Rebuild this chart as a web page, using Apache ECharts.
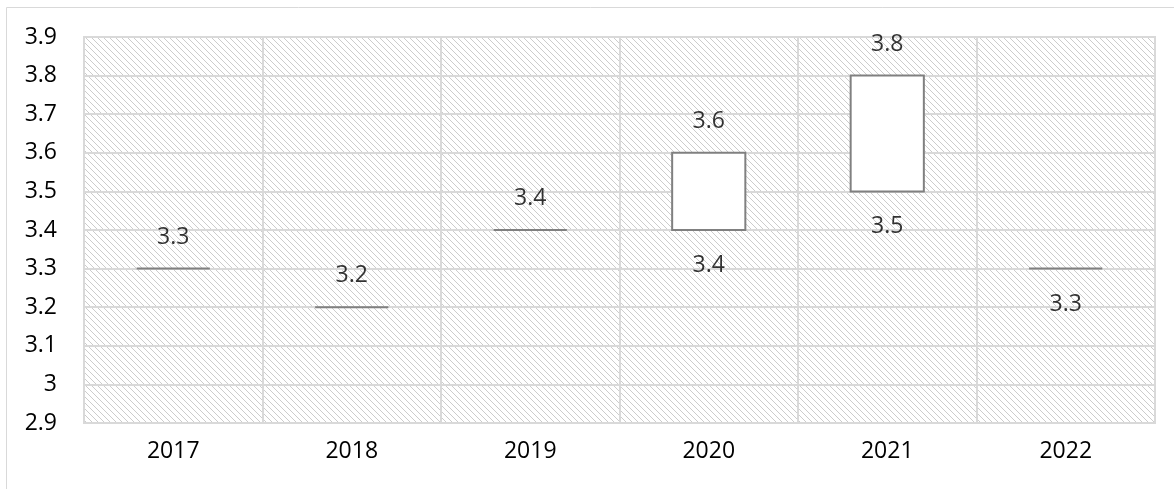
<!DOCTYPE html>
<html>
<head>
<meta charset="utf-8">
<script src="https://cdn.jsdelivr.net/npm/echarts@6/dist/echarts.min.js"></script>
<style>
    html, body { margin: 0; padding: 0; background: #fff; }
    #chart { width: 1174px; height: 489px; }
</style>
</head>
<body>
<div id="chart"></div>
<script>
const years = ['2017', '2018', '2019', '2020', '2021', '2022']
const lowValues = [3.3, 3.2, 3.4, 3.4, 3.5, 3.3]
const highValues = [3.3, 3.2, 3.4, 3.6, 3.8, 3.3]
// labels shown above / below the bars
const topLabels = [3.3, 3.2, 3.4, 3.6, 3.8, null]
const bottomLabels = [null, null, null, 3.4, 3.5, 3.3]

const fontFamily = '"Open Sans", "Liberation Sans", Arial, sans-serif'
const textColor = '#000000'

// diagonal hatch fill for plot area
function hatch() {
    const c = document.createElement('canvas')
    const s = 6
    c.width = s
    c.height = s
    const ctx = c.getContext('2d')
    ctx.fillStyle = '#ffffff'
    ctx.fillRect(0, 0, s, s)
    ctx.fillStyle = '#cccccc'
    for (let y = 0; y < s; y++) {
        for (let x = 0; x < s; x++) {
            if ((x - y + s) % s === 0) ctx.fillRect(x, y, 1, 1)
        }
    }
    return c
}

const myChart = echarts.init(document.getElementById('chart'))
const boxData = years.map((y, i) => [i, lowValues[i], highValues[i]])

myChart.setOption({
    animation: false,
    graphic: [{
        type: 'rect',
        shape: { x: 6.5, y: 7.5, width: 1200, height: 520 },
        style: { fill: 'none', stroke: '#d9d9d9', lineWidth: 1 },
        silent: true,
        z: -10
    }],
    grid: {
        left: 84,
        right: 19,
        top: 37,
        bottom: 66,
        show: true,
        backgroundColor: { image: hatch(), repeat: 'repeat' },
        borderColor: '#d9d9d9',
        borderWidth: 2
    },
    xAxis: {
        type: 'category',
        data: years,
        boundaryGap: true,
        axisLine: { show: false },
        axisTick: { show: false },
        axisLabel: { color: textColor, fontSize: 23, fontFamily: fontFamily, margin: 17 },
        splitLine: { show: true, lineStyle: { color: '#d9d9d9', width: 2 } }
    },
    yAxis: {
        type: 'value',
        min: 2.9,
        max: 3.9,
        interval: 0.1,
        axisLine: { show: false },
        axisTick: { show: false },
        axisLabel: {
            color: textColor,
            fontSize: 23,
            fontFamily: fontFamily,
            margin: 27,
            formatter: v => String(parseFloat(v.toFixed(1)))
        },
        splitLine: { lineStyle: { color: '#d9d9d9', width: 2 } }
    },
    series: [
        {
            type: 'custom',
            data: boxData,
            encode: { x: 0, y: [1, 2] },
            renderItem: (params, api) => {
                const lo = api.coord([api.value(0), api.value(1)])
                const hi = api.coord([api.value(0), api.value(2)])
                const w = api.size([1, 0])[0] * 0.41
                return {
                    type: 'rect',
                    shape: { x: lo[0] - w / 2, y: hi[1], width: w, height: lo[1] - hi[1] },
                    style: { fill: '#ffffff', stroke: '#808080', lineWidth: 2 }
                }
            },
            z: 3
        },
        {
            type: 'scatter',
            data: topLabels,
            symbolSize: 0,
            label: {
                show: true,
                position: 'top',
                distance: 20,
                color: textColor,
                fontSize: 23,
                fontFamily: fontFamily,
                formatter: p => p.value
            },
            z: 4
        },
        {
            type: 'scatter',
            data: bottomLabels,
            symbolSize: 0,
            label: {
                show: true,
                position: 'bottom',
                distance: 24,
                color: textColor,
                fontSize: 23,
                fontFamily: fontFamily,
                formatter: p => p.value
            },
            z: 4
        }
    ]
})
</script>
</body>
</html>
